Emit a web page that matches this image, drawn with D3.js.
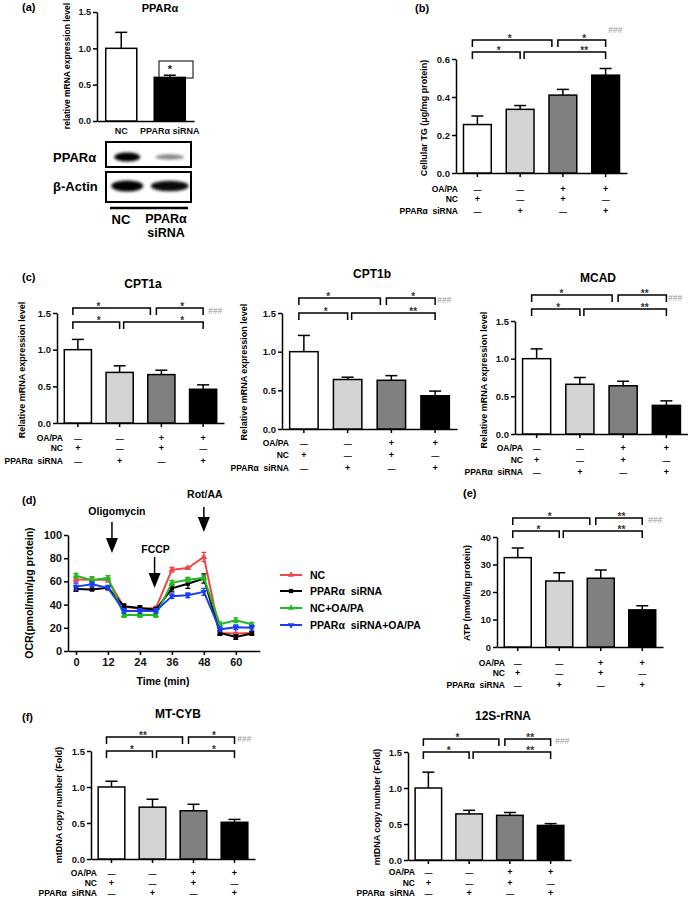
<!DOCTYPE html>
<html><head><meta charset="utf-8">
<script src="https://cdn.jsdelivr.net/npm/d3@7"></script>
<style>
body{margin:0;background:#fff}
svg{display:block;font-family:"Liberation Sans",Arial,sans-serif;font-weight:bold}
</style>
</head><body><svg id="chart" width="688" height="899"></svg>
<script>
// ---------------- DATA ----------------
const aCategories = ["NC", "PPARα siRNA"];
const aMean = [1.0, 0.60];
const aErr = [0.22, 0.03];
const aTicks = [0, 0.5, 1.0, 1.5];
const blotPPARa = [1.0, 0.3];
const blotActin = [1.0, 0.95];

const rowLabels = ["OA/PA", "NC", "PPARα\u00a0 siRNA"];
const rowOAPA = ["—", "—", "+", "+"];
const rowNC = ["+", "—", "+", "—"];
const rowSiRNA = ["—", "+", "—", "+"];

const tgMean = [0.255, 0.335, 0.41, 0.515];
const tgErr = [0.045, 0.02, 0.03, 0.035];
const tgSig = ["*", "*", "*", "**"];
const tgTicks = [0, 0.2, 0.4, 0.6];

const cpt1aMean = [1.0, 0.69, 0.66, 0.46];
const cpt1aErr = [0.14, 0.09, 0.06, 0.06];
const cpt1aSig = ["*", "*", "*", "*"];

const cpt1bMean = [1.0, 0.64, 0.63, 0.43];
const cpt1bErr = [0.21, 0.03, 0.06, 0.06];
const cpt1bSig = ["*", "*", "*", "**"];

const mcadMean = [1.0, 0.66, 0.64, 0.38];
const mcadErr = [0.13, 0.09, 0.06, 0.06];
const mcadSig = ["*", "**", "*", "**"];

const atpMean = [32.5, 24.0, 25.0, 13.5];
const atpErr = [3.5, 3.0, 3.0, 1.5];
const atpSig = ["*", "**", "*", "**"];
const atpTicks = [0, 10, 20, 30, 40];

const mtcybMean = [1.0, 0.72, 0.67, 0.51];
const mtcybErr = [0.08, 0.11, 0.09, 0.04];
const mtcybSig = ["**", "*", "*", "*"];

const s12Mean = [1.0, 0.64, 0.62, 0.48];
const s12Err = [0.22, 0.05, 0.04, 0.025];
const s12Sig = ["*", "**", "*", "**"];

const relTicks = [0, 0.5, 1.0, 1.5];

const ocrSeries = ["NC", "PPARα siRNA", "NC+OA/PA", "PPARα siRNA+OA/PA"];
const ocrTimes = [0, 6, 12, 18, 24, 30, 36, 42, 48, 54, 60, 66];
const ocrNC = [61.7, 61.5, 61.5, 38, 36.5, 37, 70, 71.5, 81, 15.5, 15, 15.5];
const ocrNCErr = [2, 1.5, 2, 2, 1, 1.5, 2, 1, 4, 1, 1, 1];
const ocrSi = [53.5, 53, 54.5, 38.5, 37, 35.5, 54, 58, 62.5, 15.5, 12, 15];
const ocrSiErr = [2, 1, 1.5, 2, 2, 2, 3, 4, 4, 2, 2, 1.5];
const ocrNCOA = [64.8, 61, 63, 31, 31, 31, 58.8, 61.5, 63, 23, 26.5, 23];
const ocrNCOAErr = [2, 3, 2, 2, 2, 2, 2, 2, 2, 2, 2, 1.5];
const ocrSiOA = [55.5, 57.5, 54.5, 34.5, 34.5, 34.5, 47.3, 48, 51, 18.7, 20.5, 20];
const ocrSiOAErr = [3, 2, 2, 2, 2, 2, 2, 2, 3, 2, 2, 2];
const ocrXTicks = [0, 12, 24, 36, 48, 60];
const ocrYTicks = [0, 20, 40, 60, 80, 100];
const injections = ["Oligomycin", "FCCP", "Rot/AA"];
const injectionTimes = [13.5, 29.5, 48];

// ---------------- STYLE ----------------
const barFills = ["#ffffff", "#d4d4d4", "#808080", "#000000"];
const lineColors = ["#f04848", "#000000", "#22bb22", "#1a3cf5"];
const markerTypes = [d3.symbolTriangle, d3.symbolSquare, d3.symbolTriangle, d3.symbolTriangle];
const markerRot = [0, 0, 0, 180];

const svg = d3.select("#chart");
svg.append("rect").attr("width", 688).attr("height", 899).attr("fill", "#fff");

const defs = svg.append("defs");
defs.append("filter").attr("id", "blur").attr("x", "-50%").attr("y", "-100%").attr("width", "200%").attr("height", "300%")
  .append("feGaussianBlur").attr("stdDeviation", 1.6);

function txt(g, x, y, s, o = {}) {
  const t = g.append("text").attr("x", x).attr("y", y).text(s)
    .attr("font-size", o.size || 9)
    .attr("text-anchor", o.anchor || "start")
    .attr("font-weight", o.weight || "bold")
    .attr("fill", o.fill || "#000");
  if (o.rotate) t.attr("transform", `rotate(-90,${x},${y})`);
  if (o.dy) t.attr("dy", o.dy);
  if (o.italic) t.attr("font-style", "italic");
  return t;
}

function styleAxis(ax, size) {
  ax.attr("font-family", null).attr("font-size", size).attr("font-weight", "bold");
  ax.selectAll("path.domain").attr("stroke", "#000").attr("stroke-width", 1.5);
  ax.selectAll(".tick line").attr("stroke", "#000").attr("stroke-width", 1.5);
  ax.selectAll(".tick text").attr("fill", "#111");
}

// ---------------- PANEL (a) ----------------
(function () {
  const g = svg.append("g");
  txt(g, 22, 11, "(a)", { size: 11 });
  txt(g, 160, 12, "PPARα", { size: 11, anchor: "middle" });
  const x = d3.scaleBand().domain(d3.range(2)).range([97, 194]).paddingInner(0.36).paddingOuter(0.18);
  const y = d3.scaleLinear().domain([0, 1.5]).range([121, 12]);
  const ay = g.append("g").attr("transform", "translate(97,0)")
    .call(d3.axisLeft(y).tickValues(aTicks).tickFormat(d3.format(".1f")).tickSize(4).tickSizeOuter(0).tickPadding(2));
  styleAxis(ay, 9);
  const ax = g.append("g").attr("transform", "translate(0,121)")
    .call(d3.axisBottom(x).tickSize(0).tickSizeOuter(0).tickPadding(7).tickFormat(i => aCategories[i]));
  styleAxis(ax, 9);
  txt(g, 70, 66, "relative mRNA expression level", { size: 8.5, anchor: "middle", rotate: true });
  aMean.forEach((v, i) => {
    const cx = x(i) + x.bandwidth() / 2;
    g.append("line").attr("x1", cx).attr("x2", cx).attr("y1", y(v)).attr("y2", y(v + aErr[i])).attr("stroke", "#000").attr("stroke-width", 1.5);
    g.append("line").attr("x1", cx - 6).attr("x2", cx + 6).attr("y1", y(v + aErr[i])).attr("y2", y(v + aErr[i])).attr("stroke", "#000").attr("stroke-width", 1.5);
    g.append("rect").attr("x", x(i)).attr("y", y(v)).attr("width", x.bandwidth()).attr("height", y(0) - y(v))
      .attr("fill", i === 0 ? "#fff" : "#000").attr("stroke", "#000").attr("stroke-width", 1.5);
  });
  // significance box
  g.append("rect").attr("x", 159).attr("y", 61).attr("width", 34).attr("height", 17)
    .attr("fill", "none").attr("stroke", "#000").attr("stroke-width", 1);
  txt(g, 170, 73, "*", { size: 11, fill: "#222", anchor: "middle" });

  // western blot
  const bx = d3.scaleBand().domain(d3.range(2)).range([106, 191]);
  g.append("rect").attr("x", 106).attr("y", 142).attr("width", 85).attr("height", 25).attr("fill", "#fff").attr("stroke", "#000").attr("stroke-width", 2);
  g.append("rect").attr("x", 106).attr("y", 172).attr("width", 85).attr("height", 30).attr("fill", "#fff").attr("stroke", "#000").attr("stroke-width", 2);
  blotPPARa.forEach((v, i) => {
    g.append("ellipse").attr("cx", bx(i) + bx.bandwidth() / 2).attr("cy", 157)
      .attr("rx", 13 + (1 - v) * 2).attr("ry", 1.8 + 2.8 * v).attr("fill", "#000").attr("opacity", 0.25 + 0.75 * v)
      .attr("filter", "url(#blur)");
  });
  blotActin.forEach((v, i) => {
    g.append("ellipse").attr("cx", bx(i) + bx.bandwidth() / 2).attr("cy", 186)
      .attr("rx", i === 0 ? 16 : 19).attr("ry", 5.5 * v).attr("fill", "#000").attr("opacity", 0.9 * v + 0.1)
      .attr("filter", "url(#blur)");
  });
  txt(g, 53, 162, "PPARα", { size: 13 });
  txt(g, 53, 191, "β-Actin", { size: 13 });
  g.append("line").attr("x1", 110).attr("x2", 188).attr("y1", 208).attr("y2", 208).attr("stroke", "#000").attr("stroke-width", 2.5);
  txt(g, 121, 224, "NC", { size: 13, anchor: "middle" });
  txt(g, 166, 223, "PPARα", { size: 12.5, anchor: "middle" });
  txt(g, 166, 237, "siRNA", { size: 12.5, anchor: "middle" });
})();

// ---------------- 4-BAR PANELS ----------------
function barPanel(c) {
  const g = svg.append("g");
  const x = d3.scaleBand().domain(d3.range(4)).range([c.x0, c.x1]).paddingInner(0.35).paddingOuter(0.175);
  const y = d3.scaleLinear().domain([0, c.max]).range([c.y0, c.yTop]);
  const cx = i => x(i) + x.bandwidth() / 2;
  const ay = g.append("g").attr("transform", `translate(${c.x0},0)`)
    .call(d3.axisLeft(y).tickValues(c.ticks).tickFormat(d3.format(c.fmt)).tickSize(4).tickSizeOuter(0).tickPadding(2));
  styleAxis(ay, 9.5);
  const ax = g.append("g").attr("transform", `translate(0,${c.y0})`)
    .call(d3.axisBottom(x).tickSize(4).tickSizeOuter(0).tickFormat(""));
  styleAxis(ax, 9);
  c.values.forEach((v, i) => {
    const e = v + c.errs[i];
    g.append("line").attr("x1", cx(i)).attr("x2", cx(i)).attr("y1", y(v)).attr("y2", y(e)).attr("stroke", "#000").attr("stroke-width", 1.5);
    g.append("line").attr("x1", cx(i) - 6).attr("x2", cx(i) + 6).attr("y1", y(e)).attr("y2", y(e)).attr("stroke", "#000").attr("stroke-width", 1.5);
    g.append("rect").attr("x", x(i)).attr("y", y(v)).attr("width", x.bandwidth()).attr("height", c.y0 - y(v))
      .attr("fill", barFills[i]).attr("stroke", "#000").attr("stroke-width", 1.5);
  });
  // table
  [rowOAPA, rowNC, rowSiRNA].forEach((row, r) => {
    txt(g, c.labelX, c.rows[r], rowLabels[r], { size: 8.5, anchor: "end", dy: "0.35em" });
    row.forEach((s, i) => {
      txt(g, cx(i), c.rows[r], s, { size: s === "+" ? 9 : 8, anchor: "middle", dy: "0.35em" });
    });
  });
  // significance brackets
  const br = [
    { x1: cx(0) - 5, x2: cx(2) - 11, y: c.top, sx: null },
    { x1: cx(2) - 5, x2: cx(3), y: c.top, sx: (cx(2) + cx(3)) / 2 },
    { x1: cx(0) - 5, x2: cx(1), y: c.low, sx: (cx(0) + cx(1)) / 2 },
    { x1: cx(1) + 4, x2: cx(3), y: c.low, sx: (cx(2) + cx(3)) / 2 }
  ];
  br[0].sx = br[0].x1 + (br[0].x2 - br[0].x1) * c.starFrac;
  br.forEach((b, k) => {
    g.append("path").attr("d", `M${b.x1},${b.y + 7}V${b.y}H${b.x2}V${b.y + 7}`)
      .attr("fill", "none").attr("stroke", "#000").attr("stroke-width", 1.5);
    txt(g, b.sx, b.y + 2, c.sig[k], { size: 10, fill: "#333", anchor: "middle" });
  });
  txt(g, c.hashX, c.hashY, "###", { size: 8.5, weight: "normal", italic: true, fill: "#999", dy: "0.35em" });
  txt(g, c.ylx, c.yly, c.ylabel, { size: 9, anchor: "middle", rotate: true });
  if (c.title) txt(g, c.title[0], c.title[1], c.title[2], { size: 12, anchor: "middle" });
  if (c.tag) txt(g, c.tag[0], c.tag[1], c.tag[2], { size: 11 });
}

barPanel({ values: tgMean, errs: tgErr, sig: tgSig, max: 0.6, ticks: tgTicks, fmt: ".1f",
  x0: 456, x1: 627, y0: 173, yTop: 59, rows: [189, 199, 211], labelX: 458, top: 40, low: 52,
  hashX: 608, hashY: 30, starFrac: 0.47, ylabel: "Cellular TG (μg/mg protein)", ylx: 427, yly: 118,
  tag: [415, 12, "(b)"] });

barPanel({ values: cpt1aMean, errs: cpt1aErr, sig: cpt1aSig, max: 1.5, ticks: relTicks, fmt: ".1f",
  x0: 57, x1: 224, y0: 423, yTop: 313, rows: [438, 448, 461], labelX: 63, top: 308, low: 322,
  hashX: 208, hashY: 311, starFrac: 0.33, ylabel: "Relative mRNA expression level", ylx: 25, yly: 370,
  title: [143, 288, "CPT1a"], tag: [22, 281, "(c)"] });

barPanel({ values: cpt1bMean, errs: cpt1bErr, sig: cpt1bSig, max: 1.5, ticks: relTicks, fmt: ".1f",
  x0: 282, x1: 457, y0: 429, yTop: 313, rows: [443, 455, 468], labelX: 289, top: 298, low: 313,
  hashX: 437, hashY: 300, starFrac: 0.36, ylabel: "Relative mRNA expression level", ylx: 247, yly: 372,
  title: [372, 278, "CPT1b"] });

barPanel({ values: mcadMean, errs: mcadErr, sig: mcadSig, max: 1.5, ticks: relTicks, fmt: ".1f",
  x0: 515, x1: 688, y0: 434, yTop: 321, rows: [448, 460, 472], labelX: 523, top: 295, low: 309,
  hashX: 668, hashY: 298, starFrac: 0.37, ylabel: "Relative mRNA expression level", ylx: 487, yly: 380,
  title: [598, 282, "MCAD"] });

barPanel({ values: atpMean, errs: atpErr, sig: atpSig, max: 40, ticks: atpTicks, fmt: "d",
  x0: 497, x1: 663, y0: 647, yTop: 537, rows: [663, 673, 685], labelX: 505, top: 518, low: 531,
  hashX: 648, hashY: 520, starFrac: 0.48, ylabel: "ATP (nmol/mg protein)", ylx: 470, yly: 593,
  tag: [463, 497, "(e)"] });

barPanel({ values: mtcybMean, errs: mtcybErr, sig: mtcybSig, max: 1.5, ticks: relTicks, fmt: ".1f",
  x0: 91, x1: 255, y0: 859, yTop: 751, rows: [873, 883, 893], labelX: 97, top: 737, low: 751,
  hashX: 237, hashY: 739, starFrac: 0.48, ylabel: "mtDNA copy number (Fold)", ylx: 62, yly: 805,
  title: [178, 718, "MT-CYB"], tag: [22, 721, "(f)"] });

barPanel({ values: s12Mean, errs: s12Err, sig: s12Sig, max: 1.5, ticks: relTicks, fmt: ".1f",
  x0: 408, x1: 571, y0: 860, yTop: 752, rows: [872, 883, 893], labelX: 415, top: 739, low: 752,
  hashX: 555, hashY: 741, starFrac: 0.45, ylabel: "mtDNA copy number (Fold)", ylx: 380, yly: 807,
  title: [503, 720, "12S-rRNA"] });

// ---------------- PANEL (d) ----------------
(function () {
  const g = svg.append("g");
  txt(g, 22, 504, "(d)", { size: 11 });
  const x = d3.scaleLinear().domain([-3, 69]).range([68, 259.8]);
  const y = d3.scaleLinear().domain([0, 100]).range([651, 535]);
  const ay = g.append("g").attr("transform", "translate(68,0)")
    .call(d3.axisLeft(y).tickValues(ocrYTicks).tickSize(4).tickSizeOuter(0).tickPadding(2));
  styleAxis(ay, 11);
  const ax = g.append("g").attr("transform", "translate(0,651)")
    .call(d3.axisBottom(x).tickValues(ocrXTicks).tickSize(4).tickSizeOuter(0).tickPadding(3));
  styleAxis(ax, 11);
  txt(g, 163, 685, "Time (min)", { size: 10.5, anchor: "middle" });
  txt(g, 33, 593, "OCR(pmol/min/μg protein)", { size: 10.5, anchor: "middle", rotate: true });

  const all = [[ocrNC, ocrNCErr], [ocrSi, ocrSiErr], [ocrNCOA, ocrNCOAErr], [ocrSiOA, ocrSiOAErr]];
  const line = d3.line().x((d, i) => x(ocrTimes[i])).y(d => y(d));
  all.forEach(([vals, errs], s) => {
    const col = lineColors[s];
    vals.forEach((v, i) => {
      const px = x(ocrTimes[i]);
      g.append("path").attr("d", `M${px},${y(v - errs[i])}V${y(v + errs[i])}M${px - 2.5},${y(v - errs[i])}H${px + 2.5}M${px - 2.5},${y(v + errs[i])}H${px + 2.5}`)
        .attr("stroke", col).attr("stroke-width", 1.3).attr("fill", "none");
    });
    g.append("path").datum(vals).attr("d", line).attr("fill", "none").attr("stroke", col).attr("stroke-width", 2);
    g.selectAll(null).data(vals).enter().append("path")
      .attr("d", d3.symbol().type(markerTypes[s]).size(18))
      .attr("transform", (d, i) => `translate(${x(ocrTimes[i])},${y(d)}) rotate(${markerRot[s]})`)
      .attr("fill", col);
  });

  // injection arrows
  const arrowLayout = [
    { textY: 515, top: 522, head: 538, bot: 553 },
    { textY: 553, top: 557, head: 573, bot: 588 },
    { textY: 498, top: 507, head: 517, bot: 532 }
  ];
  injections.forEach((lab, k) => {
    const a = arrowLayout[k];
    const px = x(injectionTimes[k]);
    txt(g, px + (k === 0 ? 5 : 1), a.textY, lab, { size: 10.5, anchor: "middle" });
    g.append("line").attr("x1", px).attr("x2", px).attr("y1", a.top).attr("y2", a.head).attr("stroke", "#000").attr("stroke-width", 1.5);
    g.append("path").attr("d", `M${px - 6},${a.head}L${px + 6},${a.head}L${px},${a.bot}Z`).attr("fill", "#000");
  });

  // legend
  const ly = [575, 591, 608, 625];
  ocrSeries.forEach((name, s) => {
    g.append("line").attr("x1", 280).attr("x2", 302).attr("y1", ly[s]).attr("y2", ly[s]).attr("stroke", lineColors[s]).attr("stroke-width", 2);
    g.append("path").attr("d", d3.symbol().type(markerTypes[s]).size(18))
      .attr("transform", `translate(291,${ly[s]}) rotate(${markerRot[s]})`).attr("fill", lineColors[s]);
    txt(g, 310, ly[s], name.replace(" ", "\u00a0 "), { size: 10.5, dy: "0.35em" });
  });
})();
</script>
</body></html>
